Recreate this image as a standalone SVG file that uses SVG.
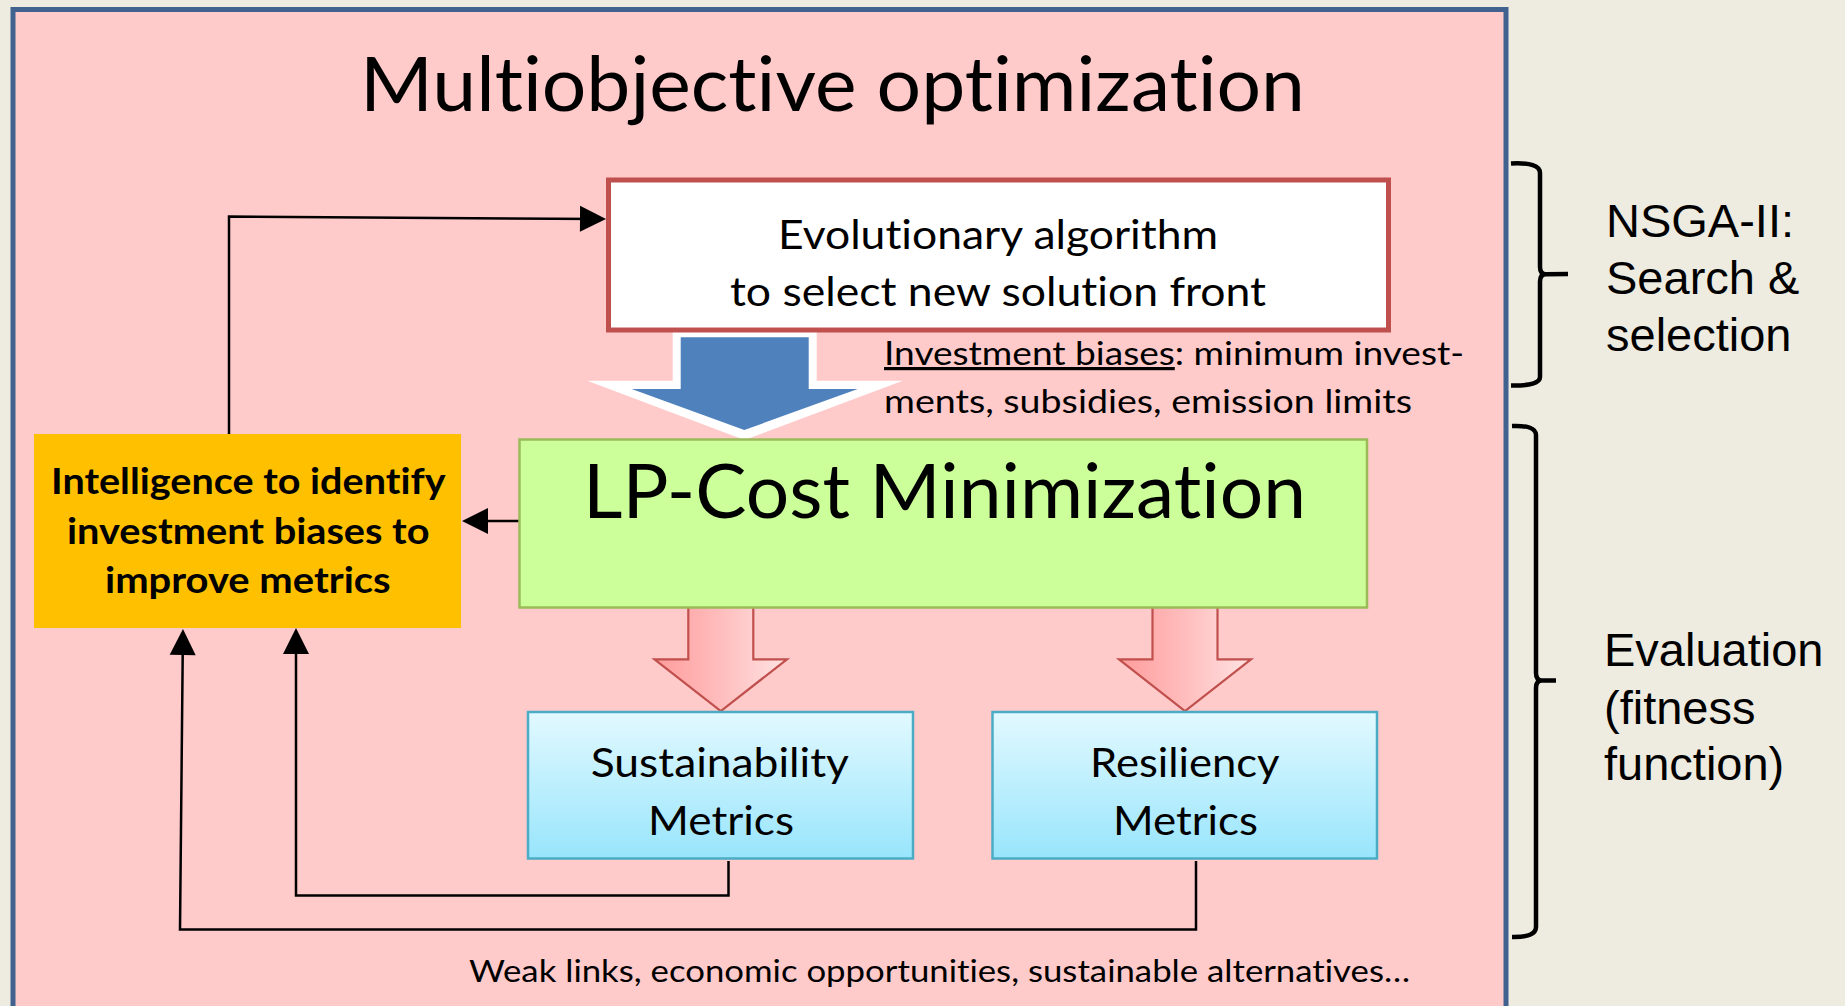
<svg xmlns="http://www.w3.org/2000/svg" width="1845" height="1006" viewBox="0 0 1845 1006">
  <style>
    .cal { font-family: Lato, "Open Sans", "Liberation Sans", sans-serif; fill: #000; font-variant-ligatures: none; font-feature-settings: "liga" 0, "clig" 0, "dlig" 0; }
    .bold { font-weight: 700; }
    .arial { font-family: "Liberation Sans", Arial, sans-serif; font-size: 47px; fill: #000; }
    .link { fill: none; stroke: #000; stroke-width: 2.5; }
    .brace { fill: none; stroke: #000; stroke-width: 4.5; }
    .metric { stroke: #4BACC6; stroke-width: 2.5; }
    .down { fill: url(#pinkFade); stroke: #C0504D; stroke-width: 2.2; stroke-linejoin: miter; }
  </style>
  <defs>
    <linearGradient id="pinkFade" x1="0" y1="0" x2="1" y2="0">
      <stop offset="0" stop-color="#FF9C9C"/>
      <stop offset="0.5" stop-color="#FFBDBD"/>
      <stop offset="1" stop-color="#FFE3E3"/>
    </linearGradient>
    <linearGradient id="skyFade" x1="0" y1="0" x2="0" y2="1">
      <stop offset="0" stop-color="#E2F9FF"/>
      <stop offset="1" stop-color="#98E5FC"/>
    </linearGradient>
    <marker id="head" markerUnits="userSpaceOnUse" markerWidth="27" markerHeight="27" refX="20" refY="13" orient="auto" overflow="visible">
      <path d="M0,0 L26,13 L0,26 z" fill="#000"/>
    </marker>
  </defs>

  <!-- page background and the optimization frame -->
  <rect x="0" y="0" width="1845" height="1006" fill="#EEEBE1"/>
  <rect id="frame" x="13" y="9.5" width="1493" height="1100" fill="#FFCACA" stroke="#41618F" stroke-width="5"/>

  <text id="title" class="cal" x="360" y="111" font-size="76" textLength="945" lengthAdjust="spacingAndGlyphs">Multiobjective optimization</text>

  <!-- connectors -->
  <g id="connectors">
    <!-- block arrow: new front feeds the LP -->
    <polygon points="672.7,330 816.7,330 816.7,380.7 902.7,380.7 744.5,440 587.3,380.7 672.7,380.7" fill="#FFFFFF"/>
    <polygon points="680.7,337.3 808.7,337.3 808.7,389 857.7,389 744.3,430 631.7,389 680.7,389" fill="#4F81BD"/>
    <!-- block arrows: LP results to the metric boxes -->
    <path class="down" d="M688.3,606 V659.3 H654.5 L720.8,711 L787,659.3 H753.3 V606"/>
    <path class="down" d="M1152.5,606 V659.3 H1119 L1185,711 L1251,659.3 H1217.5 V606"/>
    <!-- feedback lines -->
    <polyline class="link" points="229,434 229,216.5 600,219" marker-end="url(#head)"/>
    <line class="link" x1="519" y1="521" x2="468" y2="521" marker-end="url(#head)"/>
    <polyline class="link" points="728.5,861 728.5,895.5 296,895.5 296,634" marker-end="url(#head)"/>
    <polyline class="link" points="1196,861 1196,929.5 180,929.5 182.9,635" marker-end="url(#head)"/>
  </g>

  <!-- nodes -->
  <g id="evolutionary">
    <rect x="608.5" y="180" width="780" height="150" fill="#FFFFFF" stroke="#C0504D" stroke-width="5"/>
    <text class="cal" x="778" y="249" font-size="41" textLength="440" lengthAdjust="spacingAndGlyphs">Evolutionary algorithm</text>
    <text class="cal" x="730" y="306" font-size="41" textLength="536" lengthAdjust="spacingAndGlyphs">to select new solution front</text>
  </g>

  <g id="biases-note">
    <text class="cal" x="884" y="365" font-size="32" textLength="580" lengthAdjust="spacingAndGlyphs"><tspan text-decoration="underline">Investment biases</tspan>: minimum invest-</text>
    <text class="cal" x="884" y="413" font-size="32" textLength="528" lengthAdjust="spacingAndGlyphs">ments, subsidies, emission limits</text>
  </g>

  <g id="lp-cost">
    <rect x="519.5" y="439.5" width="847.5" height="168" fill="#CCFF99" stroke="#9BBB59" stroke-width="2.5"/>
    <text class="cal" x="583" y="518" font-size="76" textLength="723" lengthAdjust="spacingAndGlyphs">LP-Cost Minimization</text>
  </g>

  <g id="intelligence">
    <rect x="34" y="434" width="427" height="194" fill="#FFC000"/>
    <text class="cal bold" x="51" y="493.5" font-size="37" textLength="394.5" lengthAdjust="spacingAndGlyphs">Intelligence to identify</text>
    <text class="cal bold" x="67" y="544" font-size="37" textLength="362.5" lengthAdjust="spacingAndGlyphs">investment biases to</text>
    <text class="cal bold" x="105" y="593.3" font-size="37" textLength="285.6" lengthAdjust="spacingAndGlyphs">improve metrics</text>
  </g>

  <g id="sustainability">
    <rect class="metric" x="528" y="712" width="385" height="146.5" fill="url(#skyFade)"/>
    <text class="cal" x="590.7" y="776.7" font-size="41" textLength="258.3" lengthAdjust="spacingAndGlyphs">Sustainability</text>
    <text class="cal" x="648" y="835" font-size="41" textLength="146" lengthAdjust="spacingAndGlyphs">Metrics</text>
  </g>

  <g id="resiliency">
    <rect class="metric" x="992.5" y="712" width="384.5" height="146.5" fill="url(#skyFade)"/>
    <text class="cal" x="1090" y="776.7" font-size="41" textLength="189.6" lengthAdjust="spacingAndGlyphs">Resiliency</text>
    <text class="cal" x="1113" y="835" font-size="41" textLength="145" lengthAdjust="spacingAndGlyphs">Metrics</text>
  </g>

  <text id="findings" class="cal" x="469" y="982" font-size="31" textLength="941" lengthAdjust="spacingAndGlyphs">Weak links, economic opportunities, sustainable alternatives…</text>

  <!-- phase braces and their labels -->
  <g id="nsga-phase">
    <path class="brace" d="M1511,163.5 Q1540,162 1540,173 L1540,267 Q1540,274.3 1546,274.3 L1568,274 M1546,274.3 Q1540,274.3 1540,281.5 L1540,377 Q1540,386 1511,385.5"/>
    <text class="arial" x="1606" y="237">NSGA-II:</text>
    <text class="arial" x="1606" y="294">Search &amp;</text>
    <text class="arial" x="1606" y="351">selection</text>
  </g>

  <g id="evaluation-phase">
    <path class="brace" d="M1512,426 Q1536,425 1536,435 L1536,673 Q1536,680.5 1542,680.5 L1556,680.5 M1542,680.5 Q1536,680.5 1536,688 L1536,927 Q1536,937.5 1512,937"/>
    <text class="arial" x="1604" y="665.5">Evaluation</text>
    <text class="arial" x="1604" y="723.5">(fitness</text>
    <text class="arial" x="1604" y="779.5">function)</text>
  </g>
</svg>
